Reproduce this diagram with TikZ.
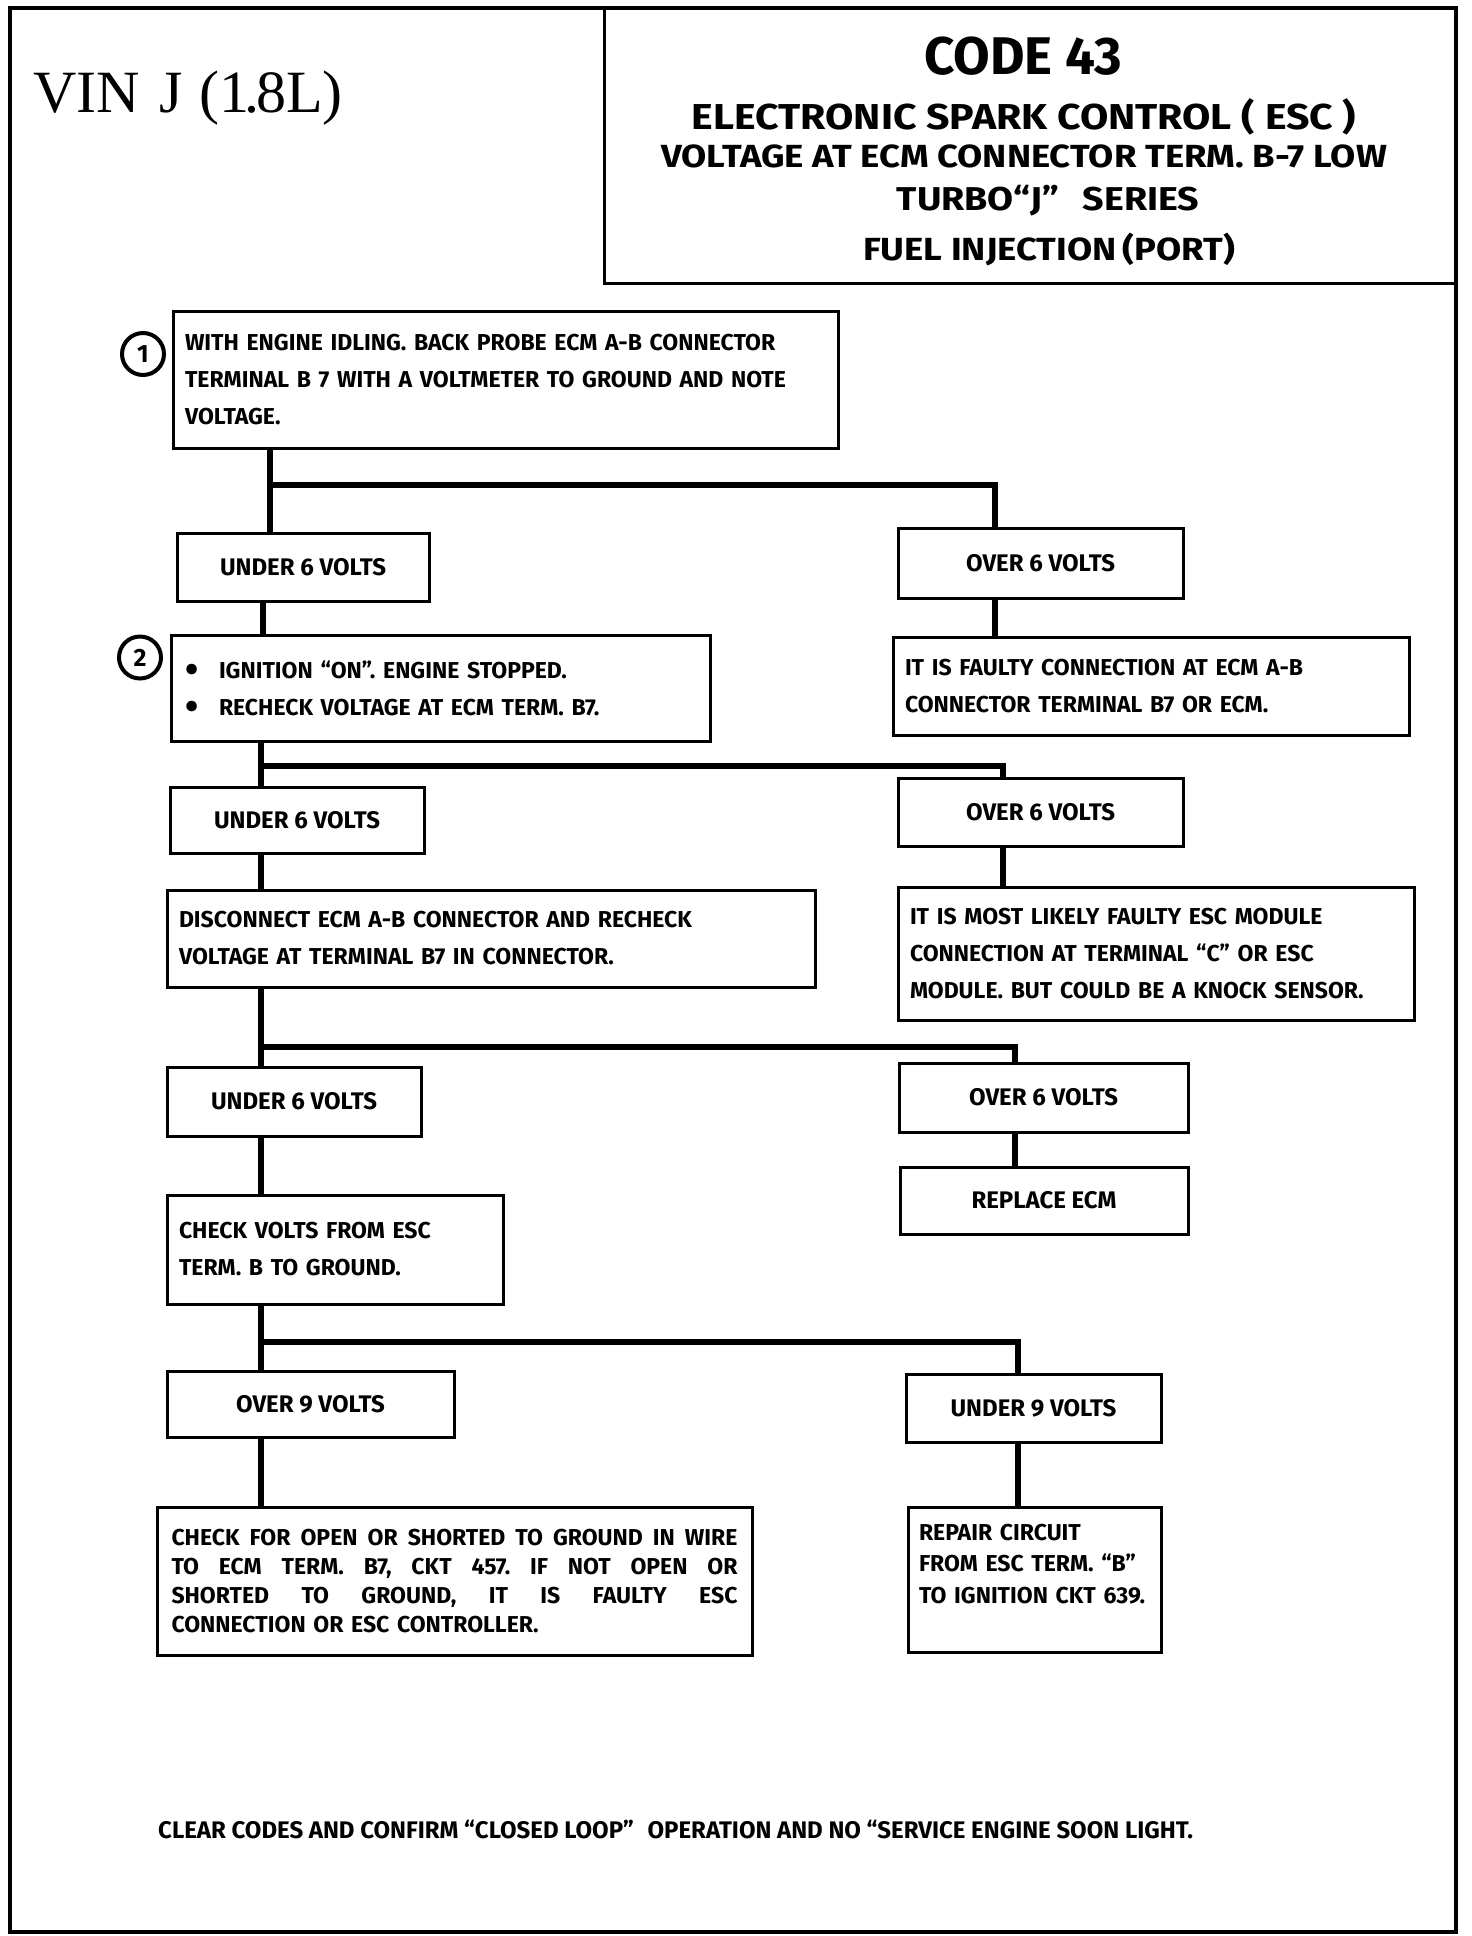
\documentclass[tikz,border=0pt]{standalone}
\usepackage{fontspec}
\setmainfont{Liberation Serif}
\newfontfamily\cf{Fira Sans}
\newfontfamily\tf[FakeStretch=1.14]{Fira Sans}
\frenchspacing
\newcommand{\bul}{\makebox[34pt][l]{\raisebox{-4pt}[0pt][0pt]{\fontsize{38}{38}\selectfont\textbullet}}}
\newcommand{\jline}[1]{\leavevmode\hbox to 566pt{#1}}
\begin{document}
\begin{tikzpicture}[x=1pt,y=-1pt,
  bx/.style={draw, line width=3pt, inner xsep=12pt, inner ysep=0pt, align=left,
    font=\cf\bfseries\fontsize{23}{37}\selectfont},
  lb/.style={draw, line width=3pt, inner sep=0pt, align=center,
    font=\cf\bfseries\fontsize{24}{28}\selectfont},
  conn/.style={line width=6pt},
  num/.style={draw, circle, line width=4pt, minimum size=42pt, inner sep=0pt,
    font=\cf\bfseries\fontsize{25}{25}\selectfont},
  ttl/.style={inner sep=0pt}]
\useasboundingbox (0,0) rectangle (1472,1936);
% frames
\draw[line width=4pt] (10,8) rectangle (1456,1932);
\node[draw, line width=3pt, minimum width=852pt, minimum height=275pt, inner sep=0pt] (tb) at (1030,145.5) {};
\node[inner sep=0pt, anchor=base west, font=\fontsize{60}{60}\selectfont] (vin) at (33,112)
 {VIN\hspace{20pt}J\hspace{16pt}(1\kern-5pt.\kern-3pt8L)};
% title
\node[ttl, font=\cf\bfseries\fontsize{53}{53}\selectfont] (t1) at (1023,56) {CODE 43};
\node[ttl, font=\tf\bfseries\fontsize{36}{36}\selectfont] (t2) at (1024,117) {ELECTRONIC SPARK CONTROL\hspace{10pt}( ESC )};
\node[ttl, font=\tf\bfseries\fontsize{32}{32}\selectfont] (t3) at (1024,156) {VOLTAGE AT ECM CONNECTOR TERM. B-7 LOW};
\node[ttl, font=\tf\bfseries\fontsize{33}{33}\selectfont] (t4) at (1048,201) {TURBO“J”\hspace{24pt}SERIES};
\node[ttl, font=\tf\bfseries\fontsize{32}{32}\selectfont] (t5) at (1049,249) {FUEL INJECTION\hspace{6pt}(PORT)};
% step 1
\node[bx, minimum width=665pt, minimum height=137pt, text width=641pt] (s1) at (505.5,379.5)
 {WITH ENGINE IDLING. BACK PROBE ECM A-B CONNECTOR\\TERMINAL B 7 WITH A VOLTMETER TO GROUND AND NOTE\\VOLTAGE.};
\node[num] (n1) at (143,354) {1};
\node[lb, minimum width=252pt, minimum height=68pt] (ua) at (303,567) {UNDER 6 VOLTS};
\node[lb, minimum width=285pt, minimum height=70pt] (oa) at (1040.5,563) {OVER 6 VOLTS};
% step 2
\node[bx, minimum width=535pt, minimum height=106pt, text width=511pt, inner xsep=14pt] (s2) at (440.5,688)
 {\bul IGNITION “ON”. ENGINE STOPPED.\\\bul RECHECK VOLTAGE AT ECM TERM. B7.};
\node[num] (n2) at (140,657.5) {2};
\node[bx, minimum width=516pt, minimum height=98pt, text width=492pt] (fa) at (1151,686)
 {IT IS FAULTY CONNECTION AT ECM A-B\\CONNECTOR TERMINAL B7 OR ECM.};
\node[lb, minimum width=254pt, minimum height=66pt] (ub) at (297,820) {UNDER 6 VOLTS};
\node[lb, minimum width=285pt, minimum height=68pt] (ob) at (1040.5,812) {OVER 6 VOLTS};
\node[bx, minimum width=648pt, minimum height=97pt, text width=624pt] (dc) at (491,938.5)
 {DISCONNECT ECM A-B CONNECTOR AND RECHECK\\VOLTAGE AT TERMINAL B7 IN CONNECTOR.};
\node[bx, minimum width=516pt, minimum height=133pt, text width=492pt] (ml) at (1156,953.5)
 {IT IS MOST LIKELY FAULTY ESC MODULE\\CONNECTION AT TERMINAL “C” OR ESC\\MODULE. BUT COULD BE A KNOCK SENSOR.};
\node[lb, minimum width=254pt, minimum height=69pt] (uc) at (294,1101.5) {UNDER 6 VOLTS};
\node[lb, minimum width=289pt, minimum height=69pt] (oc) at (1043.5,1097.5) {OVER 6 VOLTS};
\node[lb, minimum width=288pt, minimum height=67pt] (rp) at (1044,1200.5) {REPLACE ECM};
\node[bx, minimum width=336pt, minimum height=109pt, text width=312pt] (cv) at (335,1249.5)
 {CHECK VOLTS FROM ESC\\TERM. B TO GROUND.};
\node[lb, minimum width=287pt, minimum height=66pt] (o9) at (310.5,1404) {OVER 9 VOLTS};
\node[lb, minimum width=255pt, minimum height=68pt] (u9) at (1033.5,1408) {UNDER 9 VOLTS};
\node[bx, minimum width=595pt, minimum height=148pt, text width=566pt, inner xsep=14.5pt,
  font=\cf\bfseries\fontsize{23}{28.7}\selectfont] (co) at (454.5,1581)
 {\jline{CHECK\hfill FOR\hfill OPEN\hfill OR\hfill SHORTED\hfill TO\hfill GROUND\hfill IN\hfill WIRE}\\
  \jline{TO\hfill ECM\hfill TERM.\hfill B7,\hfill CKT\hfill 457.\hfill IF\hfill NOT\hfill OPEN\hfill OR}\\
  \jline{SHORTED\hfill TO\hfill GROUND,\hfill IT\hfill IS\hfill FAULTY\hfill ESC}\\
  CONNECTION OR ESC CONTROLLER.};
\node[bx, minimum width=253pt, minimum height=145pt, text width=231pt, inner xsep=11pt,
  font=\cf\bfseries\fontsize{23}{31.5}\selectfont] (rr) at (1034.5,1579.5)
 {REPAIR CIRCUIT\\FROM ESC TERM. “B”\\TO IGNITION CKT 639.\\\mbox{}};
% footer
\node[inner sep=0pt, anchor=west, font=\cf\bfseries\fontsize{24}{24}\selectfont] (ft) at (158,1829)
 {CLEAR CODES AND CONFIRM “CLOSED LOOP”\hspace{8pt} OPERATION AND NO “SERVICE ENGINE SOON LIGHT.};
% connectors
\coordinate (b1l) at (270,485); \coordinate (b1r) at (995,485);
\coordinate (v2) at (263,0);
\coordinate (b2l) at (261,766); \coordinate (b2r) at (1003,766);
\coordinate (b3l) at (261,1047); \coordinate (b3r) at (1015,1047);
\coordinate (b4l) at (261,1342); \coordinate (b4r) at (1018,1342);
\draw[conn] (b1l |- s1.south) -- (b1l |- ua.north);
\draw[conn] (b1l) -- (b1r) -- (b1r |- oa.north);
\draw[conn] (v2 |- ua.south) -- (v2 |- s2.north);
\draw[conn] (b1r |- oa.south) -- (b1r |- fa.north);
\draw[conn] (b2l |- s2.south) -- (b2l |- ub.north);
\draw[conn] (b2l) -- (b2r) -- (b2r |- ob.north);
\draw[conn] (b2l |- ub.south) -- (b2l |- dc.north);
\draw[conn] (b2r |- ob.south) -- (b2r |- ml.north);
\draw[conn] (b3l |- dc.south) -- (b3l |- uc.north);
\draw[conn] (b3l) -- (b3r) -- (b3r |- oc.north);
\draw[conn] (b3r |- oc.south) -- (b3r |- rp.north);
\draw[conn] (b3l |- uc.south) -- (b3l |- cv.north);
\draw[conn] (b4l |- cv.south) -- (b4l |- o9.north);
\draw[conn] (b4l) -- (b4r) -- (b4r |- u9.north);
\draw[conn] (b4l |- o9.south) -- (b4l |- co.north);
\draw[conn] (b4r |- u9.south) -- (b4r |- rr.north);
\end{tikzpicture}
\end{document}
